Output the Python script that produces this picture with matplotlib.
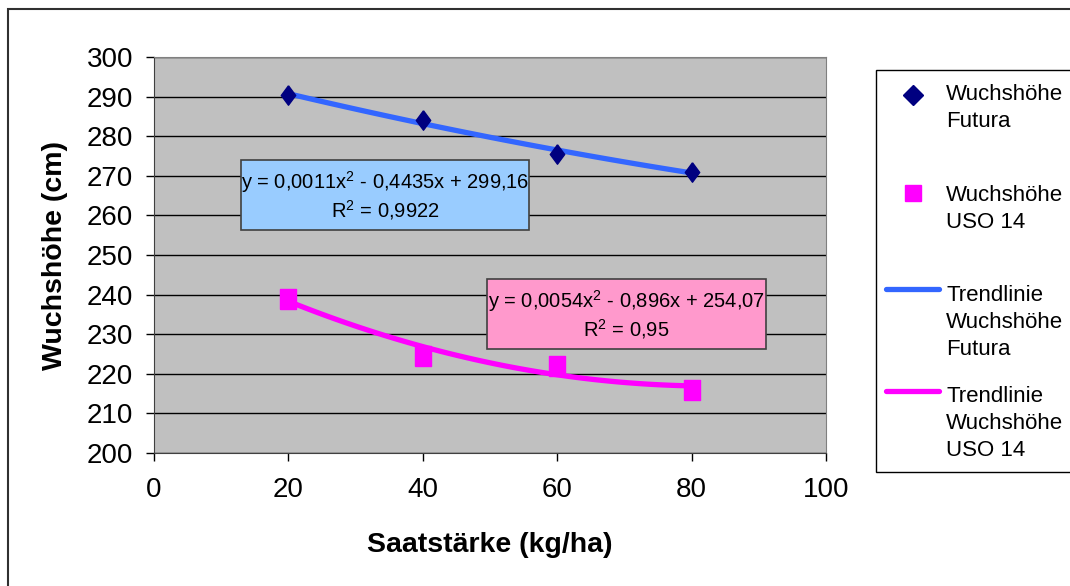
import matplotlib.pyplot as plt
import numpy as np
from matplotlib.lines import Line2D
from matplotlib.patches import Rectangle

plt.rcParams['font.family'] = ['Liberation Sans', 'DejaVu Sans']
plt.rcParams['mathtext.default'] = 'regular'

# Saatstärke in kg/ha
saat = [20, 40, 60, 80]
# Wuchshöhe in cm
futura = [290.5, 284.0, 275.5, 271.0]
uso14 = [239.0, 224.5, 222.0, 216.0]

# polynomial trend lines (2nd order), highest power first
fit_futura = [0.0011, -0.4435, 299.16]
fit_uso = [0.0054, -0.896, 254.07]
r2_futura = '0,9922'
r2_uso = '0,95'

BLUE = '#3366FF'
MAGENTA = '#FF00FF'
NAVY = '#000080'

W, H = 1070, 586
fig = plt.figure(figsize=(W / 100, H / 100), dpi=100)
ax = fig.add_axes([154 / W, 1 - 453 / H, (826 - 154) / W, (453 - 57) / H])
ax.set_facecolor('#C0C0C0')

# slightly tall markers, like the spreadsheet ones
tall_diamond = [(0, 1.35), (1, 0), (0, -1.35), (-1, 0), (0, 1.35)]
tall_square = [(-1, -1.2), (1, -1.2), (1, 1.2), (-1, 1.2), (-1, -1.2)]

xs = np.linspace(saat[0], saat[-1], 100)
ax.plot(xs, np.polyval(fit_futura, xs), color=BLUE, lw=3.8, zorder=3,
        solid_capstyle='round')
ax.plot(xs, np.polyval(fit_uso, xs), color=MAGENTA, lw=3.8, zorder=3,
        solid_capstyle='round')
ax.plot(saat, futura, marker=tall_diamond, color=NAVY, ms=14, zorder=4, ls='none')
ax.plot(saat, uso14, marker=tall_square, color=MAGENTA, ms=14, zorder=4, ls='none')

ax.set_xlim(0, 100)
ax.set_ylim(200, 300)
ax.set_xticks(range(0, 101, 20))
ax.set_yticks(range(200, 301, 10))
ax.yaxis.grid(True, color='black', lw=1)
ax.set_axisbelow(True)
ax.tick_params(labelsize=20, length=6, color='black', width=1)
ax.tick_params(axis='x', pad=11)
ax.tick_params(axis='y', pad=9)
for s in ['top', 'right']:
    ax.spines[s].set_color('#808080')
for s in ['left', 'bottom']:
    ax.spines[s].set_color('#404040')

ax.set_xlabel('Saatstärke (kg/ha)', fontsize=20.5, fontweight='bold', va='center')
ax.set_ylabel('Wuchshöhe (cm)', fontsize=20.5, fontweight='bold', va='center')
ax.xaxis.set_label_coords(0.5, (453 - 545) / 396)
ax.yaxis.set_label_coords((55 - 154) / 672, 0.5)


def num(v):
    return str(v).replace('.', ',')


# equation boxes: (x0, x1, y0, y1) of the box, then y of both text lines
boxes = [
    (fit_futura, r2_futura, '#99CCFF', (12.95, 55.8, 256.3, 274.0), (268.4, 261.4)),
    (fit_uso, r2_uso, '#FF99CC', (49.55, 91.07, 226.3, 243.9), (238.4, 231.3)),
]
for c, r2, fc, (x0, x1, y0, y1), (ya, yb) in boxes:
    ax.add_patch(Rectangle((x0, y0), x1 - x0, y1 - y0, fc=fc, ec='#404040',
                           lw=1.2, zorder=5))
    xc = (x0 + x1) / 2
    ax.text(xc, ya, 'y = {}x$^2$ - {}x + {}'.format(num(c[0]), num(-c[1]), num(c[2])),
            ha='center', va='center', fontsize=14.5, zorder=6)
    ax.text(xc, yb, 'R$^2$ = {}'.format(r2), ha='center', va='center',
            fontsize=14.5, zorder=6)


# legend, drawn in pixel-based figure coordinates
def fx(px):
    return px / W


def fy(py):
    return 1 - py / H


fig.patches.append(Rectangle((fx(876), fy(700)), fx(400), fy(70) - fy(472),
                             transform=fig.transFigure, fc='white', ec='black',
                             lw=1, zorder=1))
fig.patches[-1].set_xy((fx(876), fy(472)))
entries = [
    ('D', NAVY, ['Wuchshöhe', 'Futura'], 95, 100),
    ('s', MAGENTA, ['Wuchshöhe', 'USO 14'], 193, 201),
    ('line', BLUE, ['Trendlinie', 'Wuchshöhe', 'Futura'], 289, 301),
    ('line', MAGENTA, ['Trendlinie', 'Wuchshöhe', 'USO 14'], 391, 402),
]
for kind, col, lines, py, base in entries:
    if kind == 'line':
        fig.add_artist(Line2D([fx(886), fx(939)], [fy(py), fy(py)], color=col,
                              lw=3.8, solid_capstyle='round',
                              transform=fig.transFigure))
    else:
        fig.add_artist(Line2D([fx(913)], [fy(py)], marker=kind, color=col,
                              ms=10.5 if kind == 'D' else 11.5, ls='none',
                              transform=fig.transFigure))
    for i, t in enumerate(lines):
        fig.text(fx(946), fy(base + 27 * i), t, fontsize=16, va='baseline',
                 ha='left')

# outer frame around the chart
fig.patches.append(Rectangle((fx(8), fy(800)), fx(1400), fy(9) - fy(800),
                             transform=fig.transFigure, fc='none', ec='#303030',
                             lw=1.5, zorder=0))

fig.savefig('out.png', dpi=100, facecolor='white')
